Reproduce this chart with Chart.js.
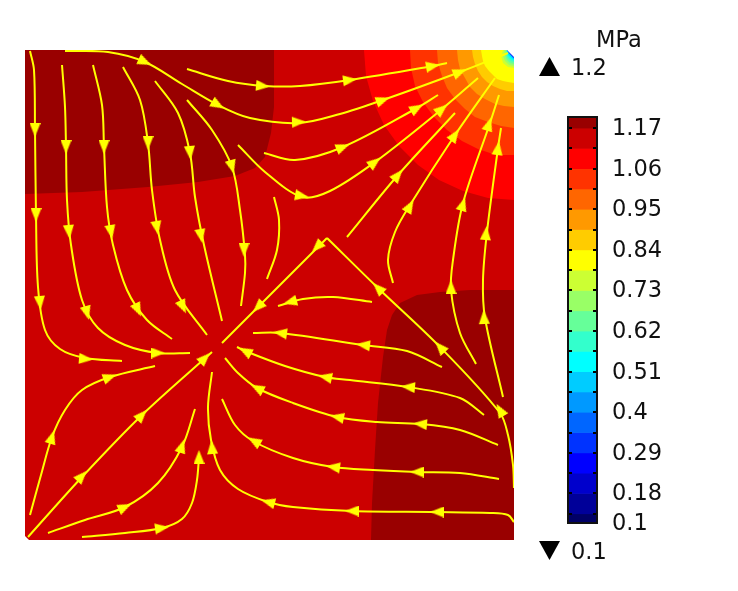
<!DOCTYPE html>
<html><head><meta charset="utf-8">
<style>
html,body{margin:0;padding:0;background:#fff;width:738px;height:591px;overflow:hidden}
canvas{position:absolute;left:0;top:0}
#bar{left:540px}
.t{position:absolute;font:22.5px "DejaVu Sans",sans-serif;color:#111;line-height:26px;white-space:nowrap}
.tri{position:absolute;left:539px;width:21px;height:19px;background:#000}
</style>
<script src="https://cdn.jsdelivr.net/npm/chart.js@4/dist/chart.umd.min.js"></script>
</head><body>
<canvas id="main" width="738" height="591"></canvas>
<canvas id="bar" width="198" height="591"></canvas>
<div class="t" style="left:596px;top:26px">MPa</div>
<div class="tri" style="top:57px;clip-path:polygon(50% 0,100% 100%,0 100%)"></div>
<div class="t" style="left:571px;top:54px">1.2</div>
<div class="tri" style="top:541px;clip-path:polygon(0 0,100% 0,50% 100%)"></div>
<div class="t" style="left:571px;top:538px">0.1</div>
<script>
// ---- colour bar ----
const barBounds = [1.2,1.17,1.115,1.06,1.005,0.95,0.895,0.84,0.785,0.73,0.675,0.62,0.565,0.51,0.455,0.4,0.345,0.29,0.235,0.18,0.125,0.1];
const barColors = ['#990000','#cc0000','#ff0000','#ff3300','#ff6600','#ff9900','#ffcc00','#ffff00','#ccff33','#99ff66','#66ff99','#33ffcc','#00ffff','#00ccff','#0099ff','#0066ff','#0033ff','#0000ff','#0000cc','#000099','#000066'];
const barLabels = [1.17,1.06,0.95,0.84,0.73,0.62,0.51,0.4,0.29,0.18,0.1];

// ---- contour regions (plot units) ----
const domain = [[25,50],[507,50],[514,57],[514,540],[29,540],[25,536]];
const darkTopLeft = [[25,50],[274,50],[274,107],[271,133],[265,157],[255,168],[235,176],[198,182],[148,187],[82,192],[25,194]];
const darkBottomRight = [[514,290],[470,290],[440,292],[417,295],[400,303],[392,315],[387,330],[383,357],[378,403],[375,450],[372,503],[371,540],[514,540]];
const ring01 = [[364,50],[366,76],[373,101],[384,125],[399,146],[418,165],[439,180],[463,191],[488,198],[514,200],[514,50]];
const ring02 = [[410,50],[411,68],[415,86],[423,102],[434,117],[447,130],[462,141],[478,149],[496,155],[514,155],[514,50]];
const ring03 = [[437,50],[438,63],[442,76],[447,88],[455,99],[465,109],[475,117],[488,122],[501,126],[514,128],[514,50]];
const ring04 = [[457,50],[458,60],[460,69],[465,78],[470,87],[477,94],[485,99],[495,104],[504,106],[514,107],[514,50]];
const ring05 = [[472,50],[473,57],[475,64],[478,71],[482,77],[487,82],[493,86],[500,89],[507,91],[514,91],[514,50]];
const ring06 = [[481,50],[482,56],[483,61],[485,66],[489,71],[493,75],[497,79],[503,81],[508,82],[514,83],[514,50]];
const ring07 = [[503,50],[501,56],[503,63],[508,67],[514,68],[514,50]];
const ring08 = [[504.5,50],[503,56],[505,61],[509,65],[514,66],[514,50]];
const ring09 = [[506,50],[505,55],[507,60],[510,63],[514,64],[514,50]];
const ring10 = [[507,50],[506,54],[508,58],[511,61],[514,62],[514,50]];
const ring11 = [[507,50],[507,54],[509,57],[511,59],[514,60.5],[514,50]];
const ring12 = [[507,50],[508,54],[510,56],[512,58],[514,59.5],[514,50]];
const ring13 = [[507,50],[509,53],[511,55],[512.5,57],[514,58.5],[514,50]];
const ring14 = [[507,50],[510,54],[512,56],[513,57.5],[514,58],[514,50]];
const ring15 = [[507,50],[510.5,54.5],[512.5,56.5],[514,57.5],[514,50]];
const ring16 = [[507,50],[511,54.5],[513,56.5],[514,57],[514,50]];
const notch = [[507,50],[514,50],[514,57]];

// ---- streamlines (plot units) ----
const s01 = [[30,51],[34,70],[35,130],[36,215],[38,287],[45,330],[60,349],[85,358],[122,361]];
const s02 = [[62,65],[65,107],[66,147],[67,200],[71,245],[82,300],[98,328],[125,345],[158,353],[190,353]];
const s03 = [[93,65],[102,105],[104,147],[107,207],[113,245],[127,290],[147,320],[172,339]];
const s04 = [[123,67],[140,100],[148,143],[152,190],[160,240],[175,290],[207,335]];
const s05 = [[155,81],[178,113],[190,153],[195,197],[204,245],[222,321]];
const s06 = [[187,100],[212,130],[232,167],[240,210],[245,255],[245,273],[241,306]];
const s07 = [[274,197],[279,220],[277,250],[267,279]];
const s08 = [[65,51],[108,52],[145,62],[182,84],[218,105],[250,118],[299,123],[340,114],[383,100],[460,72],[508,53]];
const s09 = [[187,69],[228,81],[265,86],[300,86],[350,80],[433,66],[447,63]];
const s10 = [[264,153],[295,160],[343,147],[417,108],[438,95]];
const s11 = [[238,145],[265,172],[302,197],[330,191],[375,162],[442,109],[478,78]];
const s12 = [[347,237],[398,175],[455,113]];
const s13 = [[393,283],[388,260],[395,232],[410,205],[455,135],[495,78]];
const s14 = [[476,364],[460,333],[451,290],[453,260],[463,203],[490,123],[499,95]];
const s15 = [[503,397],[485,318],[483,280],[487,232],[498,148],[501,128]];
const s16a = [[514,488],[513,465],[508,435],[500,413],[440,347],[378,288],[327,238]];
const s16b = [[327,238],[222,343]];
const s17 = [[28,537],[82,477],[142,415],[212,352]];
const s18 = [[30,515],[41,475],[52,437],[65,410],[82,390],[110,377],[155,366]];
const s19 = [[48,533],[85,520],[125,507],[158,483],[182,447],[195,409]];
const s20 = [[82,537],[125,533],[162,528],[182,519],[192,503],[197,480],[199,457]];
const s21 = [[514,522],[508,515],[490,513],[437,512],[352,511],[293,507],[268,502],[238,489],[220,470],[211,440],[208,407],[212,372]];
const s22 = [[499,479],[460,473],[417,472],[373,470],[333,467],[293,458],[253,441],[235,425],[222,399]];
const s23 = [[498,445],[460,430],[420,424],[377,422],[337,417],[293,403],[257,388],[238,373],[225,358]];
const s24 = [[484,415],[460,398],[408,387],[350,380],[325,377],[285,366],[245,351],[237,347]];
const s25 = [[442,367],[407,351],[363,345],[280,333],[253,333]];
const s26 = [[372,302],[333,297],[303,299],[278,306]];

// ---- arrowheads ----
const arrowX = [35,36,40,86, 66,69,87,158, 104,111,138, 148,157,183, 190,201, 232,244, 145,218,299,383,460, 263,350,433, 343,417, 302,375,442, 398, 410,455, 451,463,489, 484,486,498, 500,440,378,317,258, 82,142,205, 52,110, 125,182, 162,199, 437,352,268,212, 417,333,254, 420,337,257, 408,325,245, 363,280, 290];
const arrowY = [130,215,303,359, 147,232,313,353, 147,232,310, 143,228,307, 153,236, 167,250, 62,105,122,100,72, 86,80,66, 147,108, 196,162,109, 175, 206,135, 287,204,124, 317,233,148, 410,347,288,247,307, 476,415,358, 437,377, 507,446, 528,457, 512,511,502,447, 472,467,441, 424,417,388, 387,377,351, 345,333, 302];
const arrowAngle = [180,180,175,95, 180,175,165,90, 180,170,155, 180,170,155, 175,170, 165,180, 115,120,88,70,68, 95,83,80, 68,60, 100,52,50, 40, 30,35, 0,17,18, -3,5,8, -30,-42,-45,-135,-135, 43,43,45, 17,70, 65,18, 82,0, -90,-90,-75,-5, -90,-82,-60, -85,-78,-62, -85,-78,-62, -83,-82, -105];

const xy = a => a.map(p => ({x:p[0], y:p[1]}));
const region = (pts,color) => ({data:xy(pts), showLine:true, fill:'shape', backgroundColor:color, borderWidth:0, pointRadius:0, tension:0});
const regions = [
  region(domain,'#cc0000'), region(darkTopLeft,'#990000'), region(darkBottomRight,'#990000'),
  region(ring01,'#ff0000'), region(ring02,'#ff3300'), region(ring03,'#ff6600'), region(ring04,'#ff9900'),
  region(ring05,'#ffcc00'), region(ring06,'#ffff00'), region(ring07,'#ccff33'), region(ring08,'#99ff66'),
  region(ring09,'#66ff99'), region(ring10,'#33ffcc'), region(ring11,'#00ffff'), region(ring12,'#00ccff'),
  region(ring13,'#0099ff'), region(ring14,'#0066ff'), region(ring15,'#0033ff'), region(ring16,'#0000ff'),
  region(notch,'#ffffff')
];
const lines = [s01,s02,s03,s04,s05,s06,s07,s08,s09,s10,s11,s12,s13,s14,s15,s16a,s16b,s17,s18,s19,s20,s21,s22,s23,s24,s25,s26]
  .map(a => ({data:xy(a), showLine:true, fill:false, borderColor:'#ffff00', borderWidth:2, pointRadius:0, tension:0.33}));

const head = document.createElement('canvas');
head.width = 11; head.height = 14;
const hc = head.getContext('2d');
hc.fillStyle = '#ffff00';
hc.beginPath(); hc.moveTo(5.5,0); hc.lineTo(11,14); hc.lineTo(0,14); hc.closePath(); hc.fill();

const arrows = {data:arrowX.map((x,i)=>({x, y:arrowY[i]})), showLine:false, pointStyle:head, pointRadius:7, pointRotation:arrowAngle, pointBackgroundColor:'#ffff00', pointBorderWidth:0};
const all = [...regions, ...lines, arrows];
all.forEach((d,i)=>{ d.order = all.length - i; });

new Chart(document.getElementById('main'), {
  type:'scatter',
  data:{datasets:all},
  options:{
    responsive:false, animation:false, events:[],
    layout:{padding:{left:25, top:50, right:224, bottom:51}},
    plugins:{legend:{display:false}, tooltip:{enabled:false}},
    scales:{
      x:{type:'linear', min:25, max:514, display:false},
      y:{type:'linear', min:50, max:540, reverse:true, display:false}
    }
  }
});

new Chart(document.getElementById('bar'), {
  type:'bar',
  data:{labels:['MPa'], datasets:barColors.map((c,i)=>({data:[[barBounds[i+1],barBounds[i]]], backgroundColor:c, borderWidth:0, barPercentage:1, categoryPercentage:1, grouped:false}))},
  options:{
    responsive:false, animation:false, events:[],
    layout:{padding:{left:28, top:117, right:0, bottom:68}},
    plugins:{legend:{display:false}, tooltip:{enabled:false}},
    scales:{
      x:{display:false},
      y:{
        type:'linear', position:'right', min:0.1, max:1.2,
        afterBuildTicks:s=>{ s.ticks = barBounds.map(v=>({value:v})); },
        afterFit:s=>{ s.width = 141; s.paddingTop = 0; s.paddingBottom = 0; },
        border:{display:false, dash:[4,21,4,0]},
        grid:{color:'#000', lineWidth:2, z:1, drawTicks:false, tickLength:0},
        ticks:{
          autoSkip:false, maxRotation:0, padding:15, color:'#111', labelOffset:1,
          font:{family:'"DejaVu Sans"', size:22.5},
          callback:v=> barLabels.includes(v) ? String(v) : ''
        }
      }
    }
  },
  plugins:[{id:'frame', afterDraw(c){ const a=c.chartArea, x=c.ctx; x.save(); x.strokeStyle='#111'; x.lineWidth=2; x.strokeRect(a.left,a.top,a.right-a.left,a.bottom-a.top); x.restore(); }}]
});
</script>
</body></html>
